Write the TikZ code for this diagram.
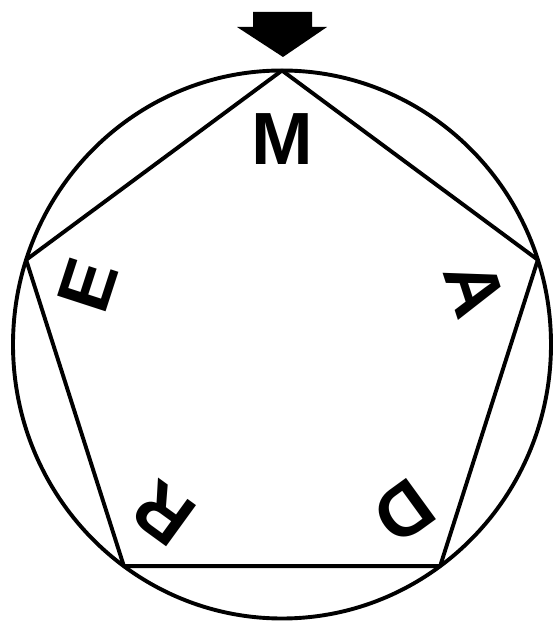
\documentclass[tikz,border=0pt]{standalone}
\usepackage{fontspec}
\setmainfont{Liberation Sans}
\begin{document}
\begin{tikzpicture}[x=1pt,y=1pt,
  outline/.style={line width=3.9pt,line join=round},
  letter/.style={font=\bfseries\fontsize{74}{74}\selectfont,inner sep=0pt,anchor=center}]
\useasboundingbox (0,0) rectangle (554,621);
\coordinate (c) at (282,276.5);
\begin{scope}[shift={(c)}]
  \draw[outline] (0,0) ellipse [x radius=269,y radius=274];
  \coordinate (vM) at (90:269 and 274);
  \coordinate (vA) at (18:269 and 274);
  \coordinate (vD) at (-54:269 and 274);
  \coordinate (vR) at (-126:269 and 274);
  \coordinate (vE) at (162:269 and 274);
  \draw[outline] (vM) -- (vA) -- (vD) -- (vR) -- (vE) -- cycle;
  \node[letter] (M) at (90:205) {M};
  \node[letter,rotate=-72] (A) at (16:201) {A};
  \node[letter,rotate=-144] (D) at (-54:207) {D};
  \node[letter,rotate=144] (R) at (-125:206) {R};
  \node[letter,rotate=72] (E) at (163:203) {E};
\end{scope}
\fill (253,609) -- (312,609) -- (312,594) -- (327,594) -- (283,564) -- (237,594) -- (253,594) -- cycle;
\end{tikzpicture}
\end{document}
